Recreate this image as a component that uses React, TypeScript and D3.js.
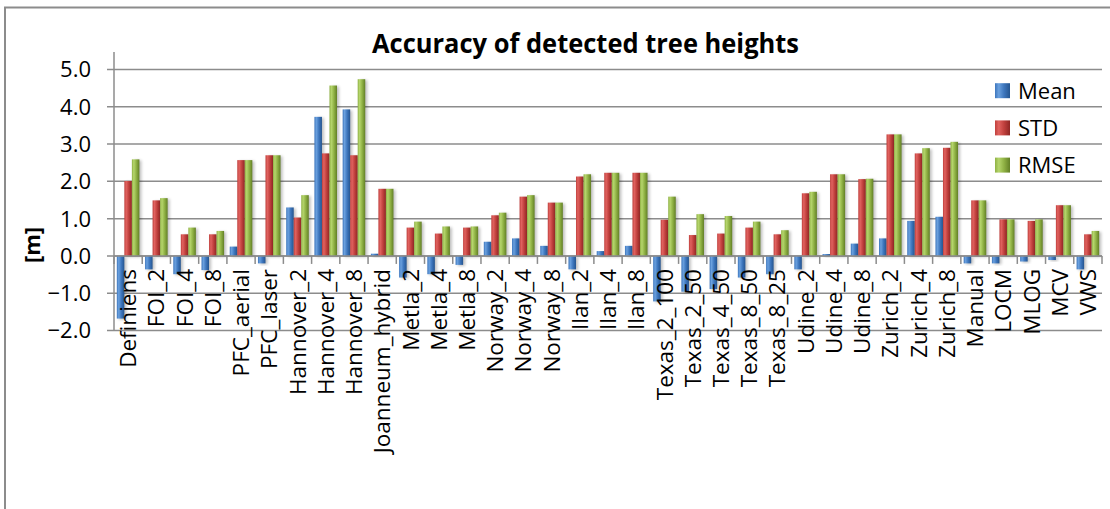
import React from "react";
import * as d3 from "d3";

const categories = [
  "Definiens", "FOI_2", "FOI_4", "FOI_8", "PFC_aerial", "PFC_laser",
  "Hannover_2", "Hannover_4", "Hannover_8", "Joanneum_hybrid",
  "Metla_2", "Metla_4", "Metla_8", "Norway_2", "Norway_4", "Norway_8",
  "Ilan_2", "Ilan_4", "Ilan_8", "Texas_2_100", "Texas_2_50", "Texas_4_50",
  "Texas_8_50", "Texas_8_25", "Udine_2", "Udine_4", "Udine_8",
  "Zurich_2", "Zurich_4", "Zurich_8", "Manual", "LOCM", "MLOG", "MCV", "VWS",
];

const meanValues = [
  -1.68, -0.36, -0.49, -0.38, 0.25, -0.2,
  1.3, 3.73, 3.93, 0.06,
  -0.58, -0.49, -0.24, 0.38, 0.47, 0.27,
  -0.36, 0.13, 0.27, -1.22, -0.96, -0.89,
  -0.58, -0.49, -0.36, 0.05, 0.33,
  0.47, 0.94, 1.05, -0.2, -0.2, -0.15, -0.11, -0.36,
];

const stdValues = [
  2.01, 1.49, 0.58, 0.58, 2.57, 2.7,
  1.03, 2.75, 2.7, 1.8,
  0.76, 0.6, 0.76, 1.09, 1.59, 1.43,
  2.13, 2.23, 2.23, 0.97, 0.56, 0.6,
  0.76, 0.58, 1.68, 2.19, 2.06,
  3.26, 2.75, 2.9, 1.49, 0.98, 0.94, 1.36, 0.58,
];

const rmseValues = [
  2.59, 1.55, 0.76, 0.67, 2.57, 2.7,
  1.63, 4.57, 4.74, 1.8,
  0.92, 0.79, 0.79, 1.16, 1.63, 1.43,
  2.19, 2.23, 2.23, 1.59, 1.12, 1.07,
  0.92, 0.69, 1.72, 2.19, 2.07,
  3.26, 2.89, 3.06, 1.49, 0.98, 0.98, 1.36, 0.67,
];

const seriesNames = ["Mean", "STD", "RMSE"];
const yTicks = [-2, -1, 0, 1, 2, 3, 4, 5];

const seriesColors: Record<string, { dark: string; light: string; mid: string }> = {
  Mean: { dark: "#24548f", light: "#6aa0de", mid: "#3d76bd" },
  STD: { dark: "#8e2624", light: "#e0625f", mid: "#c0403d" },
  RMSE: { dark: "#627f26", light: "#b5d56c", mid: "#8fb144" },
};

const FONT = "'Open Sans', 'DejaVu Sans', sans-serif";

export default function App() {
  const W = 1110;
  const H = 509;
  const left = 114;
  const right = 1102;
  const top = 69.5;
  const bottom = 330.5;

  const x0 = d3.scaleBand<string>().domain(categories).range([left, right]).padding(0);
  const bw = x0.bandwidth();
  const x1 = d3.scaleBand<string>().domain(seriesNames).range([bw * 0.1, bw * 0.9]).padding(0);
  const y = d3.scaleLinear().domain([-2, 5]).range([bottom, top]);

  const data: Record<string, number[]> = {
    Mean: meanValues,
    STD: stdValues,
    RMSE: rmseValues,
  };

  const y0 = y(0);

  return (
    <svg
      width={W}
      height={H}
      style={{ position: "absolute", left: 0, top: 0, background: "#fff" }}
      fontFamily={FONT}
    >
      <defs>
        {seriesNames.map((s) => (
          <linearGradient key={s} id={`g-${s}`} x1="0" x2="1" y1="0" y2="0">
            <stop offset="0%" stopColor={seriesColors[s].mid} />
            <stop offset="25%" stopColor={seriesColors[s].light} />
            <stop offset="60%" stopColor={seriesColors[s].mid} />
            <stop offset="100%" stopColor={seriesColors[s].dark} />
          </linearGradient>
        ))}
        <filter id="shadow" x="-50%" y="-20%" width="200%" height="140%">
          <feGaussianBlur stdDeviation="1.5" />
        </filter>
      </defs>

      {/* chart area border */}
      <rect x={5} y={7.5} width={1200} height={600} fill="#fff" stroke="#8c8c8c" strokeWidth={2} />

      {/* title */}
      <text
        x={585.5}
        y={53}
        textAnchor="middle"
        fontSize={26}
        fontWeight="bold"
        textLength={427}
        lengthAdjust="spacingAndGlyphs"
        fill="#000"
      >
        Accuracy of detected tree heights
      </text>

      {/* gridlines */}
      {yTicks.map((t) => (
        <line
          key={`g${t}`}
          x1={left - 7}
          x2={right}
          y1={y(t)}
          y2={y(t)}
          stroke="#8c8c8c"
          strokeWidth={1.5}
        />
      ))}

      {/* y-axis line */}
      <line x1={left} x2={left} y1={52} y2={bottom} stroke="#8c8c8c" strokeWidth={1.5} />

      {/* y tick labels */}
      {yTicks.map((t) => (
        <text
          key={`yl${t}`}
          x={91}
          y={y(t)}
          dy="0.36em"
          textAnchor="end"
          fontSize={22}
          fill="#000"
        >
          {d3.format(".1f")(t)}
        </text>
      ))}

      {/* y-axis title */}
      <text
        transform={`translate(40, 245) rotate(-90)`}
        textAnchor="middle"
        fontSize={22}
        fontWeight="bold"
        fill="#000"
      >
        [m]
      </text>

      {/* category tick marks */}
      {categories.map((c, i) => (
        <line
          key={`t${i}`}
          x1={x0(c)!}
          x2={x0(c)!}
          y1={y0}
          y2={y0 + 8}
          stroke="#8c8c8c"
          strokeWidth={1.5}
        />
      ))}
      <line x1={right} x2={right} y1={y0} y2={y0 + 8} stroke="#8c8c8c" strokeWidth={1.5} />

      {/* bar shadows */}
      {seriesNames.map((s) =>
        categories.map((c, i) => {
          const v = data[s][i];
          const bx = x0(c)! + x1(s)!;
          const yy = Math.min(y(v), y0);
          const hh = Math.abs(y(v) - y0);
          return (
            <rect
              key={`sh-${s}-${i}`}
              x={bx + 2}
              y={yy + 1}
              width={x1.bandwidth()}
              height={hh}
              fill="#000"
              opacity={0.25}
              filter="url(#shadow)"
            />
          );
        })
      )}

      {/* bars */}
      {seriesNames.map((s) =>
        categories.map((c, i) => {
          const v = data[s][i];
          const bx = x0(c)! + x1(s)!;
          const yy = Math.min(y(v), y0);
          const hh = Math.abs(y(v) - y0);
          return (
            <rect
              key={`b-${s}-${i}`}
              x={bx}
              y={yy}
              width={x1.bandwidth()}
              height={hh}
              fill={`url(#g-${s})`}
            />
          );
        })
      )}

      {/* axis line at zero */}
      <line x1={left} x2={right} y1={y0} y2={y0} stroke="#8c8c8c" strokeWidth={1.5} />

      {/* category labels */}
      {categories.map((c) => {
        const cx = x0(c)! + bw / 2;
        return (
          <text
            key={`cl-${c}`}
            transform={`translate(${cx}, 269) rotate(-90)`}
            textAnchor="end"
            dy="0.36em"
            fontSize={22.5}
            fill="#000"
          >
            {c}
          </text>
        );
      })}

      {/* legend */}
      {seriesNames.map((s, i) => {
        const cy = 90.7 + i * 37.2;
        return (
          <g key={`lg-${s}`}>
            <rect x={995} y={cy - 7.5} width={15} height={15} fill={`url(#g-${s})`} />
            <text x={1018} y={cy} dy="0.36em" fontSize={22} fill="#000">
              {s}
            </text>
          </g>
        );
      })}
    </svg>
  );
}
